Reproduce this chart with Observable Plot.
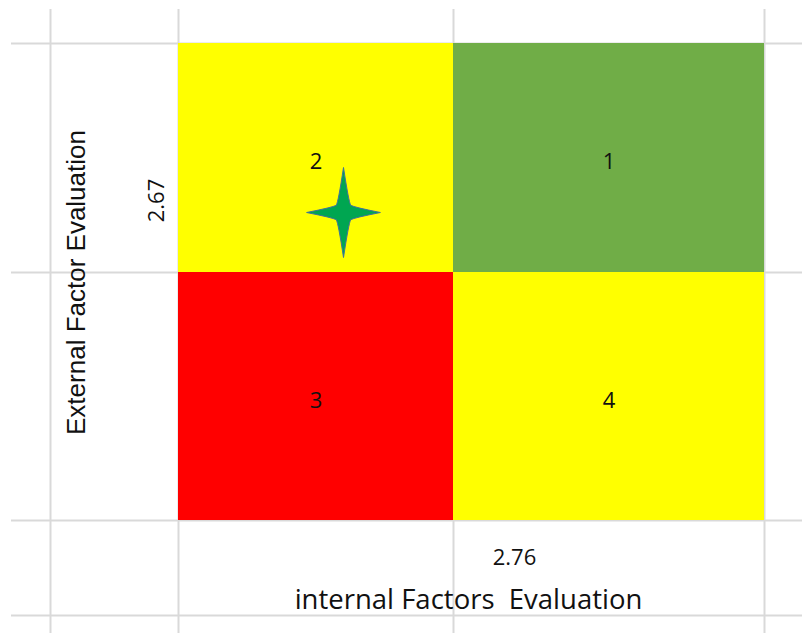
<!DOCTYPE html>
<html>
<head>
<meta charset="utf-8">
<script src="https://cdn.jsdelivr.net/npm/d3@7"></script>
<script src="https://cdn.jsdelivr.net/npm/@observablehq/plot@0.6"></script>
<style>
  html, body { margin: 0; padding: 0; background: #fff; }
  svg text { white-space: pre; }
</style>
</head>
<body>
<div id="chart"></div>
<script>
// ---- data ----
const quadrantIds    = ["2", "1", "3", "4"];
const quadrantCols   = [2, 3, 2, 3];          // spreadsheet column index (left edge)
const quadrantRows   = [1, 1, 2, 2];          // spreadsheet row index (top edge)
const quadrantColors = ["#FFFF00", "#70AD47", "#FF0000", "#FFFF00"];

const internalScore = "2.76";
const externalScore = "2.67";
const xTitle = "internal Factors  Evaluation";
const yTitle = "External Factor Evaluation";

// position of the star marker in spreadsheet cell units
const starCol = [2.6];
const starRow = [1.738];

// spreadsheet grid: column/row edge indices
const colEdges = [0, 1, 2, 3, 4, 5];
const rowEdges = [0, 1, 2, 3, 4, 5];

// ---- build ----
const quads = quadrantIds.map((id, i) => ({
  id, col: quadrantCols[i], row: quadrantRows[i], color: quadrantColors[i]
}));
const star = starCol.map((c, i) => ({col: c, row: starRow[i]}));

const fourStar = {
  draw(context, size) {
    const s = Math.sqrt(size / Math.PI);
    const h = s, w = s * 0.82, k = s * 0.16, c = s * 0.115, f = 1.5;
    context.moveTo(0, -h);
    context.quadraticCurveTo(c, -k * f, k, -k);
    context.quadraticCurveTo(k * f, -c, w, 0);
    context.quadraticCurveTo(k * f, c, k, k);
    context.quadraticCurveTo(c, k * f, 0, h);
    context.quadraticCurveTo(-c, k * f, -k, k);
    context.quadraticCurveTo(-k * f, c, -w, 0);
    context.quadraticCurveTo(-k * f, -c, -k, -k);
    context.quadraticCurveTo(-c, -k * f, 0, -h);
    context.closePath();
  }
};

const gridColor = "#d9d9d9";
const cal = "'Open Sans', 'Liberation Sans', sans-serif";

const chart = Plot.plot({
  width: 802,
  height: 633,
  margin: 0,
  x: {type: "linear", domain: colEdges, range: [11, 50, 178, 453, 764, 802], axis: null},
  y: {type: "linear", domain: rowEdges, range: [9, 43, 272, 520, 615, 633], axis: null},
  marks: [
    // spreadsheet gridlines
    Plot.ruleX(colEdges.slice(1, 5), {y1: 0, y2: 5, stroke: gridColor, strokeWidth: 2}),
    Plot.ruleY(rowEdges.slice(1, 5), {x1: 0, x2: 5, stroke: gridColor, strokeWidth: 2}),
    // quadrants
    Plot.rect(quads, {x1: "col", x2: d => d.col + 1, y1: "row", y2: d => d.row + 1, fill: "color"}),
    Plot.text(quads, {x: d => d.col + 0.5, y: d => d.row + 0.5, text: "id", dy: 4,
      fontSize: 22, fontFamily: cal, fill: "#111"}),
    // star marker
    Plot.dot(star, {x: "col", y: "row", symbol: fourStar, r: 45,
      fill: "#00A651", stroke: "#41719C", strokeWidth: 1}),
    // axis labels
    Plot.text([externalScore], {x: 2, y: 1, dx: -22, dy: 157, text: d => d, rotate: -90,
      fontSize: 22, fontFamily: cal, fill: "#111"}),
    Plot.text([yTitle], {x: 1, y: 2, dx: 26, dy: 10, text: d => d, rotate: -90,
      fontSize: 26, fontFamily: "'Liberation Sans', Arial, sans-serif", fill: "#111"}),
    Plot.text([internalScore], {x: 3, y: 3, dx: 61, dy: 37, text: d => d,
      fontSize: 22, fontFamily: cal, fill: "#111"}),
    Plot.text([xTitle], {x: 3, y: 3, dx: 15, dy: 80, text: d => d,
      fontSize: 27.5, fontFamily: cal, fill: "#111"})
  ]
});

document.getElementById("chart").appendChild(chart);
</script>
</body>
</html>
